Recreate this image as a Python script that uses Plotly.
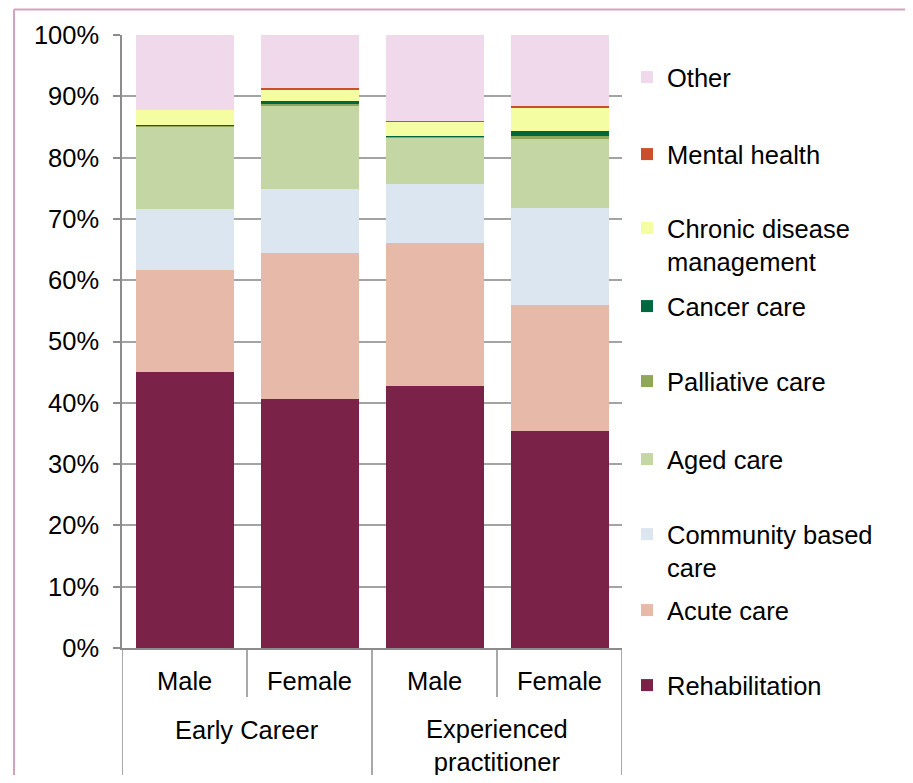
import plotly.graph_objects as go

# ---- data ----
genders = ["Male", "Female", "Male", "Female"]
group_labels = ["Early Career", "Experienced<br>practitioner"]

rehabilitation = [45.0, 40.7, 42.8, 35.4]
acute_care = [16.7, 23.7, 23.3, 20.6]
community_care = [9.9, 10.5, 9.6, 15.7]
aged_care = [13.5, 13.6, 7.6, 11.4]
palliative_care = [0.1, 0.25, 0.1, 0.4]
cancer_care = [0.1, 0.5, 0.1, 0.8]
chronic_disease = [2.4, 1.9, 2.4, 3.9]
mental_health = [0.0, 0.2, 0.1, 0.2]
other = [12.3, 8.65, 14.0, 11.6]

series_names = ["Rehabilitation", "Acute care", "Community based<br>care", "Aged care",
                "Palliative care", "Cancer care", "Chronic disease<br>management",
                "Mental health", "Other"]
series_values = [rehabilitation, acute_care, community_care, aged_care, palliative_care,
                 cancer_care, chronic_disease, mental_health, other]
series_colors = ["#7B2249", "#E6B9A8", "#DCE6F0", "#C4D6A4", "#8FA858",
                 "#00683F", "#F5FDA3", "#CC4F2C", "#EFD9EA"]

y_ticks = [0, 10, 20, 30, 40, 50, 60, 70, 80, 90, 100]
y_tick_labels = ["0%", "10%", "20%", "30%", "40%", "50%", "60%", "70%", "80%", "90%", "100%"]

# ---- layout geometry (reference screenshot pixels; page body adds 8px margin) ----
OFF = 8
W, H = 913 - 2 * OFF, 783 - 2 * OFF
L, R, T, B = 122, 622, 35, 648
pw, ph = R - L, B - T

def py(p):
    return (B - p) / ph

def px(p):
    return (p - L) / pw

FONT = "Liberation Sans, Arial, sans-serif"
FS = 25.5

legend_centers = [686, 611, 535, 460, 382, 307, 229, 155, 78]

x_pos = list(range(len(genders)))
fig = go.Figure()
for i, (name, vals, col) in enumerate(zip(series_names, series_values, series_colors)):
    lname = "legend" if i == 0 else f"legend{i+1}"
    fig.add_trace(go.Bar(x=x_pos, y=vals, name=name, marker=dict(color=col, line=dict(width=0)),
                         legend=lname, showlegend=True, hoverinfo="skip"))

layout_legends = {}
for i, c in enumerate(legend_centers):
    lname = "legend" if i == 0 else f"legend{i+1}"
    layout_legends[lname] = dict(
        x=px(627), xanchor="left", y=py(c - 24), yanchor="top",
        font=dict(family=FONT, size=FS, color="#000"),
        bgcolor="rgba(0,0,0,0)", borderwidth=0, valign="top",
        itemclick=False, itemdoubleclick=False, visible=True,
    )

grid_col = "#A3A3A3"
axis_col = "#8C8C8C"

shapes = []
# category dividers below the axis
for xv, bottom in [(-0.5, 775), (0.5, 697), (1.5, 775), (2.5, 697), (3.5, 775)]:
    shapes.append(dict(type="line", xref="x", yref="paper", x0=xv, x1=xv,
                       y0=0, y1=py(bottom), line=dict(color=axis_col, width=1.5)))
# outer chart border (only top and left edges are visible in the frame)
border = dict(color="#D3A3BB", width=2)
shapes.append(dict(type="line", xref="paper", yref="paper", x0=px(14), x1=px(905),
                   y0=py(9.5), y1=py(9.5), line=border, layer="below"))
shapes.append(dict(type="line", xref="paper", yref="paper", x0=px(14), x1=px(14),
                   y0=py(9.5), y1=py(775), line=border, layer="below"))

annotations = []
for i, g in enumerate(genders):
    annotations.append(dict(x=x_pos[i], y=py(681), xref="x", yref="paper", text=g,
                            showarrow=False, yanchor="middle", xanchor="center",
                            font=dict(family=FONT, size=FS, color="#000")))
for j, gl in enumerate(group_labels):
    nlines = gl.count("<br>") + 1
    cy = 730 if nlines == 1 else 745
    annotations.append(dict(x=2 * j + 0.5, y=py(cy), xref="x", yref="paper", text=gl,
                            showarrow=False, yanchor="middle", xanchor="center",
                            font=dict(family=FONT, size=FS, color="#000")))

fig.update_layout(
    width=W, height=H,
    showlegend=True,
    margin=dict(l=L - OFF, r=W - (R - OFF), t=T - OFF, b=H - (B - OFF), pad=0),
    paper_bgcolor="white", plot_bgcolor="white",
    barmode="stack", bargap=0.216,
    font=dict(family=FONT, size=FS, color="#000"),
    xaxis=dict(range=[-0.5, 3.5], showticklabels=False, showgrid=False, zeroline=False,
               showline=True, linecolor=axis_col, linewidth=1.5, ticks="", fixedrange=True),
    yaxis=dict(range=[0, 100], tickvals=y_ticks, ticktext=y_tick_labels, showgrid=True,
               gridcolor=grid_col, gridwidth=1.5, zeroline=False, showline=True,
               linecolor=axis_col, linewidth=1.5, ticks="outside", ticklen=7,
               tickcolor=axis_col, tickwidth=1.5, ticklabelstandoff=9,
               tickfont=dict(family=FONT, size=FS, color="#000"), fixedrange=True),
    shapes=shapes,
    annotations=annotations,
    **layout_legends,
)

fig.write_html("out.html")
